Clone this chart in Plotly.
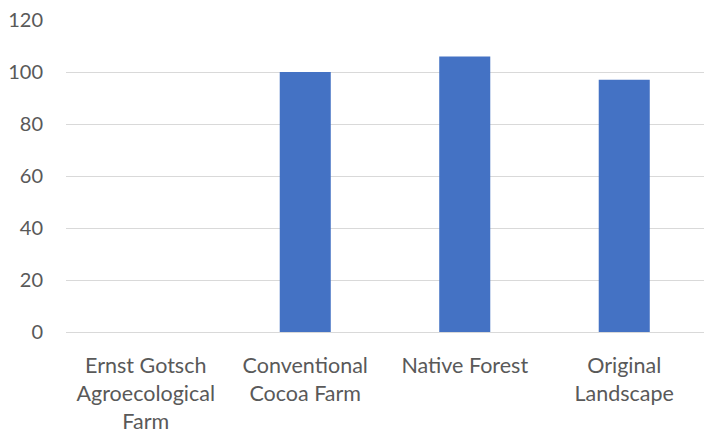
import plotly.graph_objects as go

categories = ["Ernst Gotsch<br>Agroecological<br>Farm", "Conventional<br>Cocoa Farm",
              "Native Forest", "Original<br>Landscape"]
values = [0, 100, 106, 97]
y_ticks = [0, 20, 40, 60, 80, 100, 120]

FONT = "Lato"
GRAY = "#595959"

fig = go.Figure(go.Bar(
    x=categories, y=values,
    marker=dict(color="#4472C4", line=dict(width=0)),
    width=0.32,
))

fig.update_layout(
    width=705, height=435,
    margin=dict(l=66, r=1, t=20, b=103),
    plot_bgcolor="white", paper_bgcolor="white",
    showlegend=False,
    font=dict(family=FONT, size=20, color=GRAY),
    bargap=0.68,
)
fig.update_xaxes(
    showgrid=False, showline=True, linecolor="#d9d9d9", linewidth=1,
    ticks="outside", ticklen=14, tickcolor="rgba(0,0,0,0)",
    tickfont=dict(family=FONT, size=21.5, color=GRAY),
)
fig.update_yaxes(
    range=[0, 120], tickvals=y_ticks,
    showgrid=True, gridcolor="#d9d9d9", gridwidth=1,
    zeroline=False, showline=False,
    ticks="outside", ticklen=18, tickcolor="rgba(0,0,0,0)",
    tickfont=dict(family=FONT, size=20, color=GRAY),
)

fig.write_html("out.html")
